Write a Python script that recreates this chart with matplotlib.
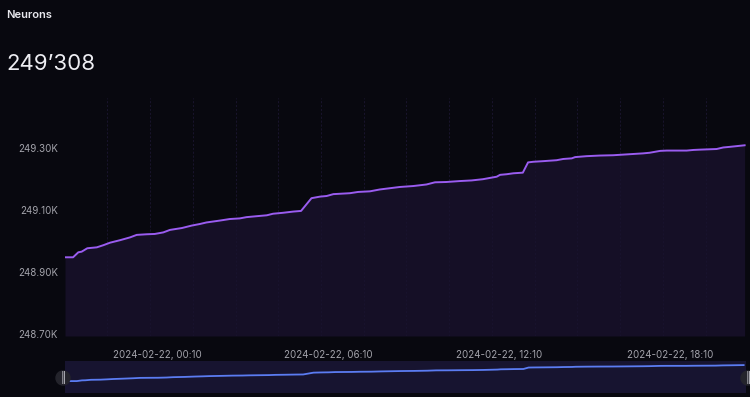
import matplotlib
matplotlib.use("Agg")
import matplotlib.pyplot as plt
import matplotlib.dates as mdates
from matplotlib.patches import Circle
import pandas as pd
import numpy as np

plt.rcParams['font.family'] = ['Inter', 'DejaVu Sans']

title = "Neurons"
current_value = "249\u2019308"

times = [
    "2024-02-21 20:56", "2024-02-21 21:13", "2024-02-21 21:24", "2024-02-21 21:31",
    "2024-02-21 21:43", "2024-02-21 22:03", "2024-02-21 22:17", "2024-02-21 22:31",
    "2024-02-21 22:52", "2024-02-21 23:13", "2024-02-21 23:27", "2024-02-21 23:48",
    "2024-02-22 00:05", "2024-02-22 00:23", "2024-02-22 00:37", "2024-02-22 01:02",
    "2024-02-22 01:23", "2024-02-22 01:40", "2024-02-22 01:54", "2024-02-22 02:22",
    "2024-02-22 02:43", "2024-02-22 03:04", "2024-02-22 03:18", "2024-02-22 03:39",
    "2024-02-22 04:01", "2024-02-22 04:14", "2024-02-22 04:35", "2024-02-22 04:57",
    "2024-02-22 05:13", "2024-02-22 05:35", "2024-02-22 05:53", "2024-02-22 06:07",
    "2024-02-22 06:21", "2024-02-22 06:56", "2024-02-22 07:13", "2024-02-22 07:38",
    "2024-02-22 07:59", "2024-02-22 08:20", "2024-02-22 08:41", "2024-02-22 09:09",
    "2024-02-22 09:37", "2024-02-22 09:55", "2024-02-22 10:19", "2024-02-22 10:47",
    "2024-02-22 11:12", "2024-02-22 11:36", "2024-02-22 11:54", "2024-02-22 12:05",
    "2024-02-22 12:12", "2024-02-22 12:26", "2024-02-22 12:40", "2024-02-22 13:00",
    "2024-02-22 13:11", "2024-02-22 13:22", "2024-02-22 13:43", "2024-02-22 14:11",
    "2024-02-22 14:25", "2024-02-22 14:43", "2024-02-22 14:50", "2024-02-22 15:14",
    "2024-02-22 15:42", "2024-02-22 16:10", "2024-02-22 16:31", "2024-02-22 16:52",
    "2024-02-22 17:13", "2024-02-22 17:27", "2024-02-22 17:49", "2024-02-22 18:03",
    "2024-02-22 18:45", "2024-02-22 18:59", "2024-02-22 19:13", "2024-02-22 19:48",
    "2024-02-22 20:02", "2024-02-22 20:16", "2024-02-22 20:47",
]
neurons = [
    248948, 248948, 248964, 248966, 248977, 248980, 248987, 248995,
    249003, 249012, 249020, 249022, 249023, 249028, 249036, 249042,
    249050, 249055, 249060, 249066, 249071, 249073, 249077, 249080,
    249083, 249088, 249091, 249095, 249097, 249138, 249143, 249145,
    249151, 249154, 249158, 249160, 249166, 249170, 249174, 249177,
    249182, 249189, 249190, 249193, 249195, 249199, 249204, 249207,
    249213, 249215, 249218, 249220, 249253, 249255, 249257, 249260,
    249264, 249266, 249270, 249273, 249275, 249276, 249278, 249280,
    249282, 249284, 249290, 249291, 249291, 249293, 249294, 249296,
    249301, 249303, 249308,
]
y_ticks = [248700, 248900, 249100, 249300]
y_tick_labels = ["248.70K", "248.90K", "249.10K", "249.30K"]
x_ticks = ["2024-02-22 00:10", "2024-02-22 06:10", "2024-02-22 12:10", "2024-02-22 18:10"]
x_tick_labels = ["2024-02-22, 00:10", "2024-02-22, 06:10", "2024-02-22, 12:10", "2024-02-22, 18:10"]
grid_times = pd.date_range("2024-02-21 22:25", "2024-02-22 20:30", freq="90min")

t = pd.to_datetime(times)
bg = "#08080f"
fill_col = "#150f26"
line_col = "#9a5cf0"
text_col = "#a3a3ab"

fig = plt.figure(figsize=(7.5, 3.97), dpi=100, facecolor=bg)

fig.text(6/750, 1 - 15/397, title, color="#e8e8ee", fontsize=8, fontweight="semibold", va="center", ha="left")
fig.text(6/750, 1 - 64/397, current_value, color="#ededf2", fontsize=16, va="center", ha="left")

ax = fig.add_axes([65/750, 1 - 336/397, 682/750, 238/397])
ax.set_facecolor(bg)
xmin = pd.Timestamp("2024-02-21 20:56")
xmax = pd.Timestamp("2024-02-22 20:52")
ax.set_xlim(xmin, xmax)
ax.set_ylim(248695, 249460)
for g in grid_times:
    ax.axvline(g, color="#13131f", lw=0.7, ls=(0, (2, 2)), zorder=1)
ax.fill_between(t, neurons, 248695, color=fill_col, zorder=2, lw=0)
for g in grid_times:
    ax.axvline(g, color="#1a1430", lw=0.7, ls=(0, (2, 2)), zorder=2.5, alpha=0.8)
ax.plot(t, neurons, color=line_col, lw=1.4, zorder=3, solid_joinstyle="round")
ax.set_yticks(y_ticks)
ax.set_yticklabels(y_tick_labels)
ax.set_xticks(pd.to_datetime(x_ticks))
ax.set_xticklabels(x_tick_labels)
ax.tick_params(axis="both", length=0, colors=text_col, labelsize=7)
ax.tick_params(axis="y", pad=5)
ax.tick_params(axis="x", pad=10)
for s in ax.spines.values():
    s.set_visible(False)

nav = fig.add_axes([65/750, 1 - 393/397, 681/750, 32/397])
nav.set_facecolor("#171430")
nav.set_xlim(xmin - pd.Timedelta(minutes=8), xmax)
nav.set_ylim(248680, 249400)
nav.plot(t, neurons, color="#5b7cf2", lw=1.3)
nav.set_xticks([])
nav.set_yticks([])
for s in nav.spines.values():
    s.set_visible(False)

for hx in [63, 748]:
    cx, cy = hx/750, 1 - 378/397
    c = Circle((hx, 397 - 378), 7, transform=None, color="#24242c", zorder=5)
    fig.patches.append(c)
    fig.text(cx, cy, "\u2016", color="#b8b8c0", fontsize=8, ha="center", va="center", zorder=6)

fig.savefig("out.png", dpi=100, facecolor=bg)
